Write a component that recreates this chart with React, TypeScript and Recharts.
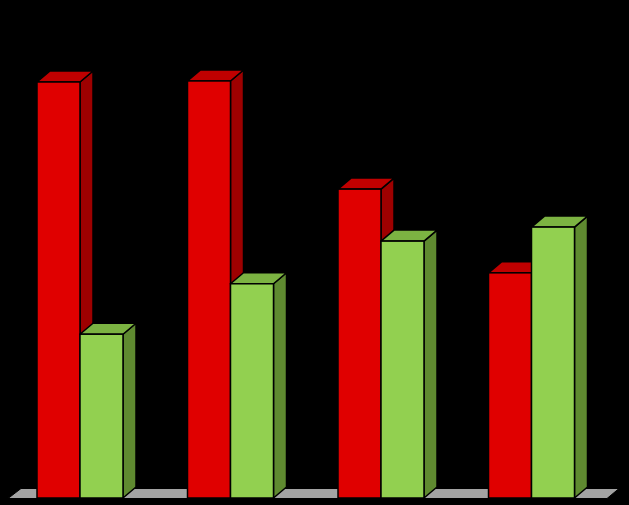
import React from "react";
import { BarChart, Bar, XAxis, YAxis, ReferenceArea } from "recharts";

const categories = ["A", "B", "C", "D"];
const redValues = [80.0, 80.2, 59.4, 43.3];
const greenValues = [31.5, 41.2, 49.4, 52.1];

const data = categories.map((c, i) => ({ name: c, red: redValues[i], green: greenValues[i] }));

const DX = 13;
const DY = 11;

const make3D = (front: string, top: string, side: string) => (props: any) => {
  const { x, y, width, height } = props;
  if (width == null || height == null) return null;
  const w = width;
  const h = height;
  return (
    <g>
      <polygon
        points={`${x + w},${y} ${x + w + DX},${y - DY} ${x + w + DX},${y + h - DY} ${x + w},${y + h}`}
        fill={side}
        stroke="#000"
        strokeWidth={1.5}
        strokeLinejoin="round"
      />
      <polygon
        points={`${x},${y} ${x + w},${y} ${x + w + DX},${y - DY} ${x + DX},${y - DY}`}
        fill={top}
        stroke="#000"
        strokeWidth={1.5}
        strokeLinejoin="round"
      />
      <rect x={x} y={y} width={w} height={h} fill={front} stroke="#000" strokeWidth={1.5} />
    </g>
  );
};

const Floor = (props: any) => {
  const { x, y, width, height } = props;
  const b = y + height + 0.5;
  return (
    <polygon
      points={`${x + 3},${b} ${x + width},${b} ${x + width + 12},${b - 10} ${x + 16},${b - 10}`}
      fill="#a3a3a3"
      stroke="#000"
      strokeWidth={1}
    />
  );
};

export default function App() {
  return (
    <div style={{ position: "absolute", left: 0, top: 0, width: 629, height: 505, background: "#000" }}>
      <BarChart
        width={629}
        height={505}
        data={data}
        margin={{ top: 30, right: 22, bottom: 7, left: 5 }}
        barGap={0}
      >
        <XAxis dataKey="name" hide />
        <YAxis hide domain={[0, 90]} />
        <ReferenceArea y1={0} y2={0.5} ifOverflow="visible" shape={Floor} />
        <Bar dataKey="red" barSize={43} isAnimationActive={false} shape={make3D("#e00000", "#c00000", "#9e0000")} />
        <Bar dataKey="green" barSize={43} isAnimationActive={false} shape={make3D("#92d050", "#7cb342", "#5f8a30")} />
      </BarChart>
    </div>
  );
}
